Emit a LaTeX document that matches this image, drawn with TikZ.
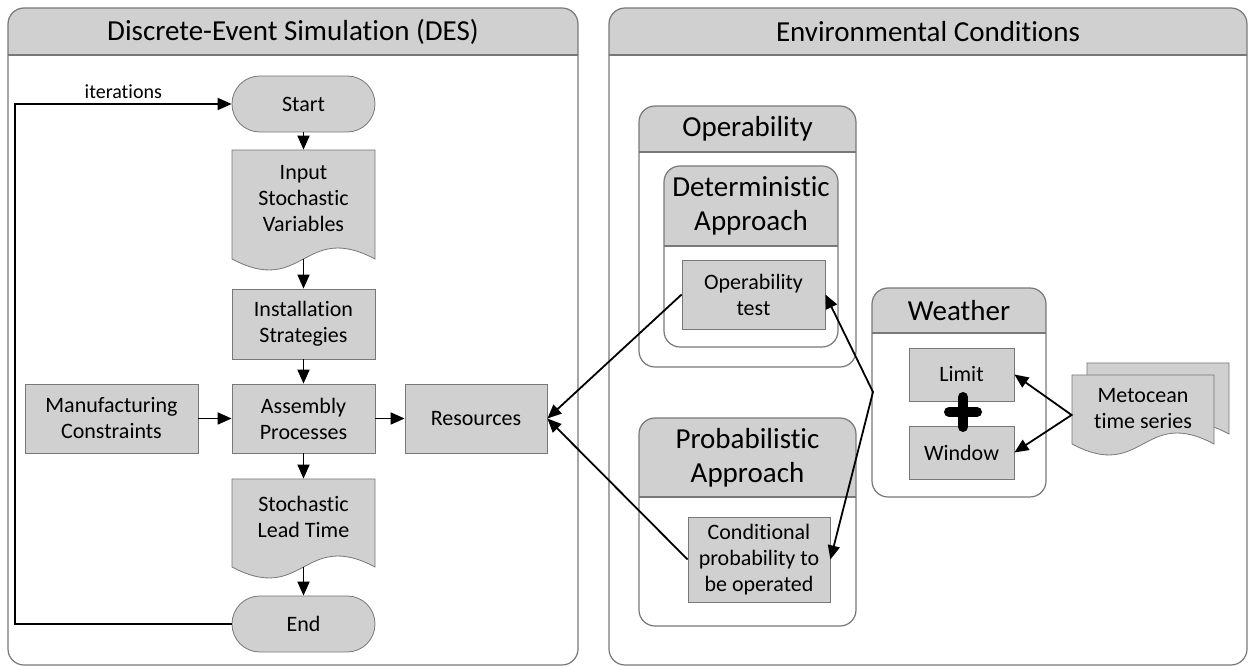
\documentclass[tikz,border=0pt]{standalone}
\usepackage{fontspec}
\setmainfont{Carlito}[Ligatures=NoCommon]
\usepackage{tikz}
\usetikzlibrary{arrows.meta}

\definecolor{boxgray}{RGB}{208,208,208}
\definecolor{linegray}{RGB}{120,120,120}

\begin{document}
\begin{tikzpicture}[x=0.5pt, y=-0.5pt,
    procbox/.style={draw=linegray, fill=boxgray, align=center, inner sep=1pt,
      minimum width=71.5pt, minimum height=34.5pt, font=\fontsize{11}{13}\selectfont},
    termbox/.style={procbox, rounded corners=13.9pt, minimum height=28pt},
    doctext/.style={align=center, inner sep=0pt, minimum width=71.5pt,
      font=\fontsize{11}{13}\selectfont},
    docshape/.style={draw=linegray, fill=boxgray},
    panelframe/.style={draw=linegray, line width=0.6pt, rounded corners=8pt},
    paneltitle/.style={align=center, font=\fontsize{14.5}{17}\selectfont},
    flow/.style={-{Triangle[length=7pt,width=6pt]}, line width=0.9pt},
    flowboth/.style={{Triangle[length=7pt,width=6pt]}-{Triangle[length=7pt,width=6pt]}, line width=0.9pt}]

  \fill[white] (0,0) rectangle (1250,667);

  % panels with grey title bar
  \foreach \xa/\ya/\xb/\yb/\yh/\fid/\ttl in {
      8/8/578/665/55/des/{Discrete-Event Simulation (DES)},
      609/8/1247/665/55/env/{Environmental Conditions},
      639/106/856/367/152/oper/{Operability},
      664/166/838/347/246/det/{Deterministic\\Approach},
      639/418/856/626/497/prob/{Probabilistic\\Approach},
      872/288/1046/497/333/wea/{Weather}}{
    \begin{scope}
      \clip[rounded corners=8pt] (\xa,\ya) rectangle (\xb,\yb);
      \fill[boxgray] (\xa,\ya) rectangle (\xb,\yh);
    \end{scope}
    \draw[panelframe] (\xa,\ya) rectangle (\xb,\yb);
    \draw[linegray, line width=0.6pt] (\xa,\yh) -- (\xb,\yh);
    \path (\xa,\ya) rectangle node[paneltitle] (\fid) {\ttl} (\xb,\yh);
  }

  % document shapes
  \filldraw[docshape] (232,150) -- (375,150) -- (375,259)
    .. controls (303.5,221) and (303.5,297) .. (232,259) -- cycle;
  \node[doctext, minimum height=49pt] (inp) at (303.5,199) {Input\\Stochastic\\Variables};
  \coordinate (inpb) at (303.5,259);

  \filldraw[docshape] (232,479) -- (375,479) -- (375,567)
    .. controls (303.5,529) and (303.5,605) .. (232,567) -- cycle;
  \node[doctext, minimum height=38pt] (slt) at (303.5,517) {Stochastic\\Lead Time};
  \coordinate (sltb) at (303.5,567);

  \filldraw[docshape] (1087,363) -- (1229,363) -- (1229,434)
    .. controls (1158,396) and (1158,472) .. (1087,434) -- cycle;
  \filldraw[docshape] (1072,375) -- (1214,375) -- (1214,444)
    .. controls (1143,406) and (1143,482) .. (1072,444) -- cycle;
  \node[doctext, minimum width=71pt, minimum height=34pt] (met) at (1143,409) {Metocean\\time series};

  % DES flow
  \node[termbox] (start) at (303.5,104) {Start};
  \node[procbox, minimum height=35pt] (inst) at (303.5,324) {Installation\\Strategies};
  \node[procbox] (asm) at (303.5,418.5) {Assembly\\Processes};
  \node[procbox, minimum width=86.5pt] (mfg) at (111.5,418.5) {Manufacturing\\Constraints};
  \node[procbox, minimum width=71pt] (res) at (476,418.5) {Resources};
  \node[termbox] (finish) at (303.5,624) {End};

  % environmental conditions
  \node[procbox] (optest) at (753.5,294.5) {Operability\\test};
  \node[procbox, minimum width=71pt, minimum height=42.5pt] (cond) at (759,559.5) {Conditional\\probability to\\be operated};
  \node[procbox, minimum width=52.5pt, minimum height=26.5pt] (lim) at (961.5,374.5) {Limit};
  \node[procbox, minimum width=52.5pt, minimum height=26.5pt] (win) at (961.5,452.5) {Window};
  \draw[line width=5pt, line cap=round] (949,412) -- (977,412) (963,397) -- (963,427);

  \draw[flow] (start.south) -- (inp.north);
  \draw[flow] (inpb) -- (inst.north);
  \draw[flow] (inst.south) -- (asm.north);
  \draw[flow] (mfg.east) -- (asm.west);
  \draw[flow] (asm.east) -- (res.west);
  \draw[flow] (asm.south) -- (slt.north);
  \draw[flow] (sltb) -- (finish.north);
  \coordinate (back) at (15,104);
  \draw[flow] (finish.west) -| (back)
    -- node[above, inner sep=2pt, font=\fontsize{10}{12}\selectfont] (iter) {iterations} (start.west);

  \draw[flow] (optest.west) -- (res.east);
  \draw[flow] (cond.west) -- (res.east);
  \coordinate (wj) at (873,392);
  \draw[flowboth] (optest.east) -- (wj) -- (cond.east);
  \draw[flowboth] (lim.east) -- ([yshift=-3pt]met.west) -- (win.east);
\end{tikzpicture}
\end{document}
